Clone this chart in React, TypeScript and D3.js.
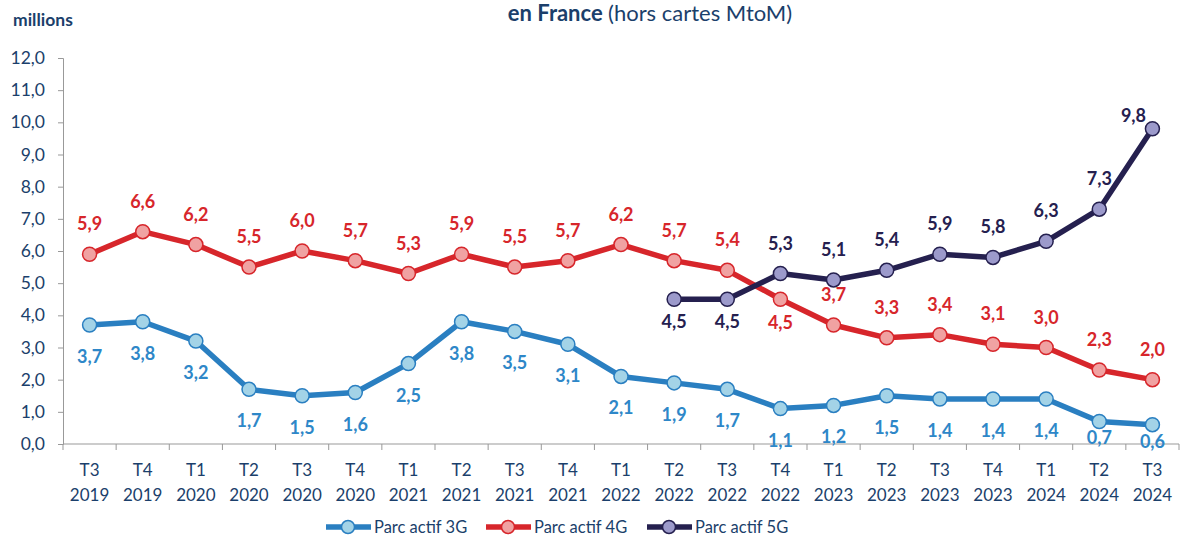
import React, {useEffect, useRef} from 'react';
import * as d3 from 'd3';

// Quarters (two-line tick labels)
const quarters = ['T3', 'T4', 'T1', 'T2', 'T3', 'T4', 'T1', 'T2', 'T3', 'T4', 'T1', 'T2', 'T3', 'T4', 'T1', 'T2', 'T3', 'T4', 'T1', 'T2', 'T3'];
const years = ['2019', '2019', '2020', '2020', '2020', '2020', '2021', '2021', '2021', '2021', '2022', '2022', '2022', '2022', '2023', '2023', '2023', '2023', '2024', '2024', '2024'];

const parc3G = [3.7, 3.8, 3.2, 1.7, 1.5, 1.6, 2.5, 3.8, 3.5, 3.1, 2.1, 1.9, 1.7, 1.1, 1.2, 1.5, 1.4, 1.4, 1.4, 0.7, 0.6];
const parc4G = [5.9, 6.6, 6.2, 5.5, 6.0, 5.7, 5.3, 5.9, 5.5, 5.7, 6.2, 5.7, 5.4, 4.5, 3.7, 3.3, 3.4, 3.1, 3.0, 2.3, 2.0];
const parc5G = [null, null, null, null, null, null, null, null, null, null, null, 4.5, 4.5, 5.3, 5.1, 5.4, 5.9, 5.8, 6.3, 7.3, 9.8];

const yTicks = [0, 1, 2, 3, 4, 5, 6, 7, 8, 9, 10, 11, 12];

const FONT = 'Lato, "Open Sans", sans-serif';
const NAVY = '#1b3f6b';

interface Series {
  name: string;
  values: (number | null)[];
  line: string;
  fill: string;
  text: string;
}

const series: Series[] = [
  {name: 'Parc actif 3G', values: parc3G, line: '#2a7fc1', fill: '#a3d3e7', text: '#2e87c8'},
  {name: 'Parc actif 4G', values: parc4G, line: '#d7262b', fill: '#f0a2a2', text: '#d7262b'},
  {name: 'Parc actif 5G', values: parc5G, line: '#25204f', fill: '#9c9acb', text: '#25204f'},
];

const fmt = (v: number) => v.toFixed(1).replace('.', ',');

export default function App() {
  const svgRef = useRef<SVGSVGElement>(null);

  useEffect(() => {
    if (!svgRef.current) return;
    const svg = d3.select(svgRef.current);
    svg.selectAll('*').remove();

    const cats = quarters.map((q, i) => `${q} ${years[i]}`);
    const x = d3.scaleBand<string>().domain(cats).range([63, 1179]);
    const y = d3.scaleLinear().domain([0, 12]).range([444, 58]);
    const cx = (i: number) => (x(cats[i]) as number) + x.bandwidth() / 2;

    // title
    const title = svg
      .append('text')
      .attr('x', 650)
      .attr('y', 21)
      .attr('text-anchor', 'middle')
      .style('font-family', FONT)
      .style('font-size', '22px')
      .attr('fill', NAVY);
    title.append('tspan').attr('font-weight', 'bold').text('en France ');
    title.append('tspan').text('(hors cartes MtoM)');

    svg
      .append('text')
      .attr('x', 13)
      .attr('y', 26)
      .style('font-family', FONT)
      .style('font-size', '17.5px')
      .attr('font-weight', 'bold')
      .attr('fill', NAVY)
      .text('millions');

    // y axis
    const yAxis = svg
      .append('g')
      .attr('transform', 'translate(63,0)')
      .call(
        d3
          .axisLeft(y)
          .tickValues(yTicks)
          .tickSize(5)
          .tickPadding(13)
          .tickFormat((d) => fmt(d as number)),
      );
    yAxis.select('.domain').attr('stroke', '#999');
    yAxis.selectAll('.tick line').attr('stroke', '#999');
    yAxis
      .selectAll('.tick text')
      .attr('fill', NAVY)
      .style('font-family', FONT)
      .style('font-size', '17.5px');

    // x axis: ticks at band boundaries
    const xg = svg.append('g');
    xg.append('line')
      .attr('x1', 63)
      .attr('x2', 1179)
      .attr('y1', 444)
      .attr('y2', 444)
      .attr('stroke', '#999');
    xg.selectAll('line.tk')
      .data(d3.range(cats.length + 1))
      .join('line')
      .attr('class', 'tk')
      .attr('x1', (i) => 63 + i * x.step())
      .attr('x2', (i) => 63 + i * x.step())
      .attr('y1', 444)
      .attr('y2', 450)
      .attr('stroke', '#999');
    const xl = xg
      .selectAll('text')
      .data(cats)
      .join('text')
      .attr('text-anchor', 'middle')
      .attr('fill', NAVY)
      .style('font-family', FONT)
      .style('font-size', '17px');
    xl.append('tspan')
      .attr('x', (_, i) => cx(i))
      .attr('y', 476)
      .text((_, i) => quarters[i]);
    xl.append('tspan')
      .attr('x', (_, i) => cx(i))
      .attr('y', 501)
      .text((_, i) => years[i]);

    // lines, markers, labels
    const line = d3
      .line<number | null>()
      .defined((d) => d != null)
      .x((_, i) => cx(i))
      .y((d) => y(d as number));

    series.forEach((s, si) => {
      const g = svg.append('g');
      g.append('path')
        .datum(s.values)
        .attr('d', line)
        .attr('fill', 'none')
        .attr('stroke', s.line)
        .attr('stroke-width', 5.5)
        .attr('stroke-linejoin', 'round');

      const pts = s.values
        .map((v, i) => ({v, i}))
        .filter((p) => p.v != null) as {v: number; i: number}[];

      g.selectAll('circle')
        .data(pts)
        .join('circle')
        .attr('cx', (p) => cx(p.i))
        .attr('cy', (p) => y(p.v))
        .attr('r', 7)
        .attr('fill', s.fill)
        .attr('stroke', s.line)
        .attr('stroke-width', 1.5);

      const off = (p: {v: number; i: number}): [number, number] => {
        if (si === 0) return [0, p.i >= 19 ? 16 : 31];
        if (si === 1) return [0, p.i === 13 ? 23 : -31];
        if (p.i <= 12) return [0, 22];
        if (p.i === 20) return [-19, -14];
        return [0, -31];
      };

      g.selectAll('text')
        .data(pts)
        .join('text')
        .attr('x', (p) => cx(p.i) + off(p)[0])
        .attr('y', (p) => y(p.v) + off(p)[1])
        .attr('text-anchor', 'middle')
        .attr('dominant-baseline', 'central')
        .attr('fill', s.text)
        .attr('font-weight', 'bold')
        .style('font-family', FONT)
        .style('font-size', '18px')
        .text((p) => fmt(p.v));
    });

    // legend
    const legendX = [326, 486, 647];
    const lg = svg
      .append('g')
      .selectAll('g')
      .data(series)
      .join('g')
      .attr('transform', (_, i) => `translate(${legendX[i]},527)`);
    lg.append('line')
      .attr('x1', 0)
      .attr('x2', 45)
      .attr('stroke', (s) => s.line)
      .attr('stroke-width', 5.5);
    lg.append('circle')
      .attr('cx', 22)
      .attr('r', 6.5)
      .attr('fill', (s) => s.fill)
      .attr('stroke', (s) => s.line)
      .attr('stroke-width', 1.5);
    lg.append('text')
      .attr('x', 48)
      .attr('dominant-baseline', 'central')
      .attr('fill', NAVY)
      .style('font-family', FONT)
      .style('font-size', '16.5px')
      .text((s) => s.name);
  }, []);

  return (
    <svg
      ref={svgRef}
      width={1181}
      height={537}
      style={{position: 'absolute', left: 0, top: 0, background: 'white'}}
    />
  );
}
